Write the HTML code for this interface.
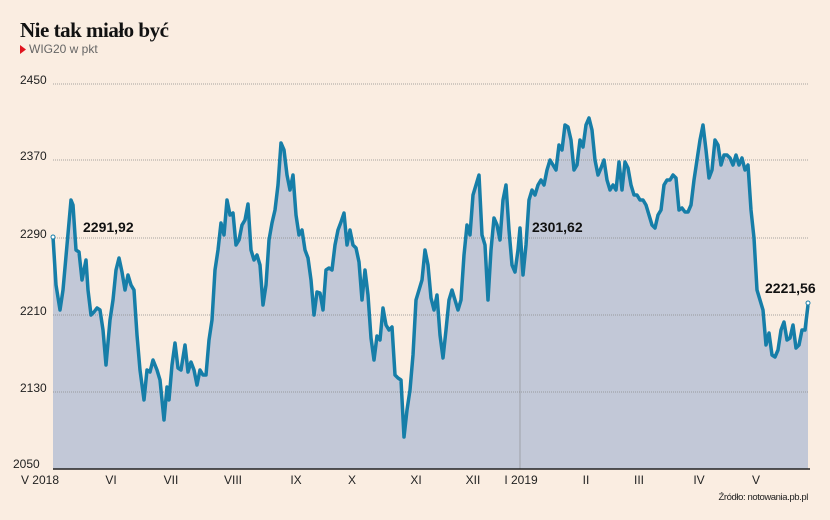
<!DOCTYPE html>
<html><head><meta charset="utf-8"><style>
body{margin:0;background:#faede1;}
svg{display:block;font-family:"Liberation Sans",sans-serif;}
</style></head><body>
<svg width="830" height="520" viewBox="0 0 830 520" xmlns="http://www.w3.org/2000/svg">
<rect width="830" height="520" fill="#faede1"/>
<text x="20" y="37" font-family="Liberation Serif,serif" font-weight="bold" font-size="21" fill="#111" letter-spacing="-0.5">Nie tak miało być</text>
<path d="M20,45 L26,49.5 L20,54 Z" fill="#e0141e"/>
<text x="29" y="53" font-size="12" fill="#666">WIG20 w pkt</text>
<g font-size="12" fill="#222">
<text x="20" y="84">2450</text><text x="20" y="160">2370</text><text x="20" y="238">2290</text>
<text x="20" y="315">2210</text><text x="20" y="392">2130</text><text x="13" y="468">2050</text>
</g>
<polygon fill="#c2c8d7" points="53,469 53,237 56,285 60,310 63,290 67,245 71,200 73,205 76,250 79,252 82,280 86,260 88,290 91,315 94,312 97,308 100,310 103,330 106,365 110,320 113,300 116,270 119,258 122,272 125,290 128,275 131,285 134,290 137,335 140,370 144,400 147,370 150,372 153,360 157,370 160,380 164,420 167,387 169,400 172,365 175,343 178,368 181,370 185,345 188,372 191,362 194,370 197,385 200,370 203,375 206,375 209,340 212,320 215,270 218,250 221,223 224,235 227,200 230,215 233,213 236,245 239,240 242,225 245,220 248,204 251,250 254,260 257,255 260,265 263,305 266,285 269,240 272,223 275,210 278,185 281,143 284,150 287,175 290,190 293,175 296,215 299,235 302,230 305,250 308,258 311,280 314,315 317,292 320,293 323,310 326,270 329,268 332,270 335,245 338,230 341,222 344,213 347,245 350,230 353,245 356,248 359,262 362,300 365,270 368,295 371,338 374,360 377,336 380,340 383,308 386,325 389,330 392,327 395,375 398,378 401,380 404,437 407,410 410,390 413,355 416,300 419,290 422,280 425,250 428,265 431,298 434,310 437,295 440,335 443,358 446,330 449,300 452,290 455,300 458,310 461,300 464,255 467,225 470,235 473,195 476,185 479,175 482,235 485,245 488,300 491,250 494,218 497,225 500,240 503,200 506,185 509,230 512,265 515,272 518,250 520,228 523,275 526,245 529,200 532,190 535,195 538,185 541,180 544,185 547,170 550,160 553,165 556,170 559,145 562,150 565,125 568,127 571,140 574,170 577,165 580,140 583,147 586,125 589,118 592,130 595,160 598,175 601,168 604,160 607,180 610,190 613,185 616,190 619,162 622,190 625,162 628,168 631,185 634,195 637,195 640,200 643,200 646,205 649,215 652,225 655,228 658,215 661,210 664,185 667,180 670,180 673,175 676,178 679,210 682,208 685,212 688,212 691,205 694,180 697,160 700,140 703,125 706,150 709,178 712,170 715,140 718,145 721,165 724,155 727,155 730,158 733,165 736,155 739,165 742,158 745,170 748,165 751,210 754,238 757,290 760,300 763,310 766,345 769,333 772,355 775,357 778,350 781,330 784,322 787,340 790,338 793,325 796,348 799,345 802,330 805,330 808,305 808,469"/>
<g stroke="#8a8a8a" stroke-width="0.7" stroke-dasharray="1,1">
<line x1="53" y1="84" x2="808" y2="84"/><line x1="53" y1="160" x2="808" y2="160"/>
<line x1="53" y1="238" x2="808" y2="238"/><line x1="53" y1="315" x2="808" y2="315"/>
<line x1="53" y1="392" x2="808" y2="392"/>
</g>
<line x1="520" y1="230" x2="520" y2="469" stroke="#888" stroke-width="0.6"/>
<polyline fill="none" stroke="#167ea8" stroke-width="3.5" stroke-linejoin="round" points="53,237 56,285 60,310 63,290 67,245 71,200 73,205 76,250 79,252 82,280 86,260 88,290 91,315 94,312 97,308 100,310 103,330 106,365 110,320 113,300 116,270 119,258 122,272 125,290 128,275 131,285 134,290 137,335 140,370 144,400 147,370 150,372 153,360 157,370 160,380 164,420 167,387 169,400 172,365 175,343 178,368 181,370 185,345 188,372 191,362 194,370 197,385 200,370 203,375 206,375 209,340 212,320 215,270 218,250 221,223 224,235 227,200 230,215 233,213 236,245 239,240 242,225 245,220 248,204 251,250 254,260 257,255 260,265 263,305 266,285 269,240 272,223 275,210 278,185 281,143 284,150 287,175 290,190 293,175 296,215 299,235 302,230 305,250 308,258 311,280 314,315 317,292 320,293 323,310 326,270 329,268 332,270 335,245 338,230 341,222 344,213 347,245 350,230 353,245 356,248 359,262 362,300 365,270 368,295 371,338 374,360 377,336 380,340 383,308 386,325 389,330 392,327 395,375 398,378 401,380 404,437 407,410 410,390 413,355 416,300 419,290 422,280 425,250 428,265 431,298 434,310 437,295 440,335 443,358 446,330 449,300 452,290 455,300 458,310 461,300 464,255 467,225 470,235 473,195 476,185 479,175 482,235 485,245 488,300 491,250 494,218 497,225 500,240 503,200 506,185 509,230 512,265 515,272 518,250 520,228 523,275 526,245 529,200 532,190 535,195 538,185 541,180 544,185 547,170 550,160 553,165 556,170 559,145 562,150 565,125 568,127 571,140 574,170 577,165 580,140 583,147 586,125 589,118 592,130 595,160 598,175 601,168 604,160 607,180 610,190 613,185 616,190 619,162 622,190 625,162 628,168 631,185 634,195 637,195 640,200 643,200 646,205 649,215 652,225 655,228 658,215 661,210 664,185 667,180 670,180 673,175 676,178 679,210 682,208 685,212 688,212 691,205 694,180 697,160 700,140 703,125 706,150 709,178 712,170 715,140 718,145 721,165 724,155 727,155 730,158 733,165 736,155 739,165 742,158 745,170 748,165 751,210 754,238 757,290 760,300 763,310 766,345 769,333 772,355 775,357 778,350 781,330 784,322 787,340 790,338 793,325 796,348 799,345 802,330 805,330 808,305"/>
<circle cx="53" cy="237" r="2" fill="#fff" stroke="#167ea8" stroke-width="1"/>
<circle cx="808" cy="303" r="2" fill="#fff" stroke="#167ea8" stroke-width="1"/>
<line x1="53" y1="469" x2="810" y2="469" stroke="#222" stroke-width="1.5"/>
<g font-size="14" font-weight="bold" fill="#111">
<text x="83" y="232">2291,92</text><text x="532" y="232">2301,62</text><text x="765" y="293">2221,56</text>
</g>
<g font-size="12" fill="#222" text-anchor="middle">
<text x="40" y="484">V 2018</text><text x="111" y="484">VI</text><text x="171" y="484">VII</text>
<text x="233" y="484">VIII</text><text x="296" y="484">IX</text><text x="352" y="484">X</text>
<text x="416" y="484">XI</text><text x="473" y="484">XII</text><text x="521" y="484">I 2019</text>
<text x="586" y="484">II</text><text x="639" y="484">III</text><text x="699" y="484">IV</text><text x="756" y="484">V</text>
</g>
<text x="808" y="500" font-size="9.5" fill="#222" text-anchor="end" letter-spacing="-0.4">Źródło: notowania.pb.pl</text>
</svg>
</body></html>
